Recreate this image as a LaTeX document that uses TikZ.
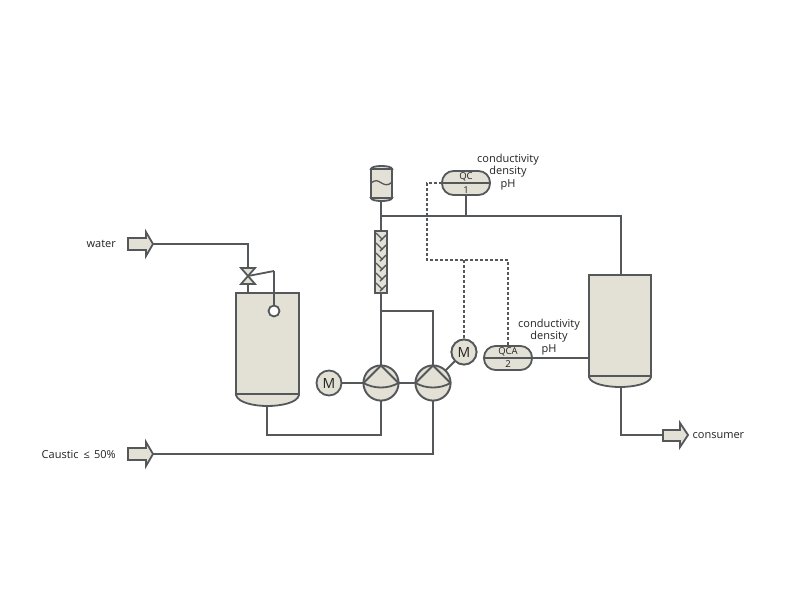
\documentclass[tikz,border=0pt]{standalone}
\usepackage{fontspec}
\setmainfont{Open Sans}
\usetikzlibrary{calc}
\definecolor{ink}{HTML}{54585A}
\definecolor{body}{HTML}{E3E1D5}
\definecolor{txt}{HTML}{222222}
\tikzset{
  pipe/.style={draw=ink,line width=1.8pt},
  signal/.style={draw=ink,line width=1.6pt,dash pattern=on 3pt off 2pt},
  equip/.style={draw=ink,fill=body,line width=1.8pt,inner sep=0pt,outer sep=0pt},
  vessel/.style={equip,rectangle,minimum width=#1},
  motor/.style={equip,circle,minimum size=25pt,font=\fontsize{14}{14}\selectfont,text=txt},
  pumpc/.style={equip,circle,minimum size=35pt},
  ctrl/.style={equip,rectangle,rounded corners=11.5pt,minimum width=48pt,minimum height=24pt},
  tag/.style={font=\fontsize{9.5}{9.5}\selectfont,text=txt,inner sep=0pt},
  lbl/.style={font=\fontsize{11}{11}\selectfont,text=txt,inner sep=0pt},
}
\begin{document}
\begin{tikzpicture}[x=1pt,y=-1pt]
\useasboundingbox (0,0) rectangle (800,600);
\coordinate (waterEnd) at (153,244);
\coordinate (causticEnd) at (153,454);
\coordinate (consumerStart) at (663,435);
\node[pumpc] (p1) at (381,383) {};
\node[pumpc] (p2) at (433,383) {};
\node[vessel=63pt,minimum height=101pt] (t1) at (267.5,343.5) {};
\node[vessel=62pt,minimum height=101pt] (t2) at (620,325.5) {};
\node[ctrl] (qc) at (466,183) {};
\node[ctrl] (qca) at (508,358) {};
\node[motor] (m1) at (329,383) {M};
\node[motor] (m2) at (464,352) {M};
\node[equip,rectangle,minimum width=12pt,minimum height=62pt] (col) at (381,262) {};
\node[vessel=21pt,minimum height=29pt] (res) at (381.5,183.5) {};
\coordinate (valve) at (248,276);
\coordinate (jA) at (381,216);
\coordinate (jB) at (381,311);
\coordinate (jC) at (267,435);
\coordinate (t1out) at (267,406);
\coordinate (t2out) at (621,387);
% connectors
\draw[pipe] (waterEnd) -| (valve);
\draw[pipe] (valve) -- (valve |- t1.north);
\draw[pipe] (col.north) -- (col.north |- res.south);
\draw[pipe] (col.south) -- (p1.north);
\draw[pipe] (jA) -| (t2out |- t2.north);
\draw[pipe] (jB) -| (p2.north);
\draw[pipe] (qc.south) -- (qc.south |- jA);
\draw[pipe] (qca.east) -- (t2.west |- qca.east);
\draw[pipe] (m1.east) -- (p1.west);
\draw[pipe] (p1.east) -- (p2.west);
\draw[pipe] (m2) -- (p2);
\draw[pipe] (t1out) -- (jC) -| (p1.south);
\draw[pipe] (causticEnd) -| (p2.south);
\draw[pipe] (t2out) |- (consumerStart);
% redraw circles over pipes
\node[pumpc] (p1b) at (p1) {};
\node[pumpc] (p2b) at (p2) {};
\node[motor] at (m2) {M};
\foreach \p in {p1b,p2b}{
  \draw[pipe,line join=round] ($(\p.center)+(-17.5,0)$) -- ($(\p.center)+(0,-17.5)$) -- ($(\p.center)+(17.5,0)$);
  \draw[pipe] ($(\p.center)+(-17.5,0)$) .. controls ($(\p.center)+(-7,6)$) and ($(\p.center)+(7,6)$) .. ($(\p.center)+(17.5,0)$);
}
% vessel dishes
\draw[equip] (t1.south west) -- ++(0,1) .. controls (238,403) and (255,406) .. (267.5,406) .. controls (280,406) and (297.5,403) .. (299,395) -- (t1.south east) -- cycle;
\draw[equip] (t2.south west) -- ++(0,1) .. controls (590.5,384) and (607,387) .. (620,387) .. controls (633,387) and (649.5,384) .. (651,377) -- (t2.south east) -- cycle;
% reservoir caps
\draw[equip] (res.north west) .. controls (371,167) and (376,166) .. (381.5,166) .. controls (387,166) and (392,167) .. (res.north east) -- cycle;
\draw[equip] (res.south west) .. controls (371,200) and (376,201) .. (381.5,201) .. controls (387,201) and (392,200) .. (res.south east) -- cycle;
\draw[pipe,line width=1.3pt] (371,183) .. controls (376,179) and (378,181) .. (381.5,183) .. controls (385,185) and (388,186) .. (392,182);
% column packing
\foreach \y in {233,243,253,263,273,283}{
  \draw[draw=ink,line width=1.4pt] (376,\y) -- (382.5,\y+6.5);
  \draw[draw=ink,line width=1.4pt] (380,\y+8) -- (386,\y+2);
}
% valve
\coordinate (valveTip) at (274,271);
\draw[pipe] (valve) -- (valveTip);
\draw[equip,line join=miter] (241,268) -- (255,268) -- (241,284) -- (255,284) -- cycle;
% level sensor
\node[draw=ink,fill=white,line width=1.8pt,circle,minimum size=11pt,inner sep=0pt] (lvl) at (274,311) {};
\draw[pipe] (valveTip) -- (lvl.north);
% arrows
\draw[equip,line join=miter] (128,238) -- (146,238) -- (146,232) -- (153,244) -- (146,256) -- (146,250) -- (128,250) -- cycle;
\draw[equip,line join=miter] (128,448) -- (146,448) -- (146,442) -- (153,454) -- (146,466) -- (146,460) -- (128,460) -- cycle;
\draw[equip,line join=miter] (663,430) -- (680,430) -- (680,423) -- (688,435) -- (680,447) -- (680,441) -- (663,441) -- cycle;
% controller dividers
\draw[pipe] (qc.west) -- (qc.east);
\draw[pipe] (qca.west) -- (qca.east);
% signals
\coordinate (sA) at (427,183);
\coordinate (sB) at (427,260);
\coordinate (sC) at (508,260);
\coordinate (sD) at (464,260);
\draw[signal] (qc.west) -- (sA) -- (sB) -- (sC) -- (qca.north);
\draw[signal] (sD) -- (m2.north);
% texts
\node[tag] (tqc) at (466,177) {QC};
\node[tag] (tq1) at (466,190) {1};
\node[tag] (tqca) at (508,352) {QCA};
\node[tag] (tq2) at (508,364) {2};
\node[lbl] (l1) at (508,160) {conductivity};
\node[lbl] (l2) at (508,172) {density};
\node[lbl] (l3) at (508,185) {pH};
\node[lbl] (l4) at (549,325) {conductivity};
\node[lbl] (l5) at (549,337) {density};
\node[lbl] (l6) at (549,350) {pH};
\node[lbl,anchor=east] (lw) at (116,244) {water};
\node[lbl,anchor=east] (lc) at (116,455) {Caustic\hspace{2pt} ≤\hspace{1.5pt} 50\%};
\node[lbl,anchor=west] (lo) at (692.5,436) {consumer};
\end{tikzpicture}
\end{document}
